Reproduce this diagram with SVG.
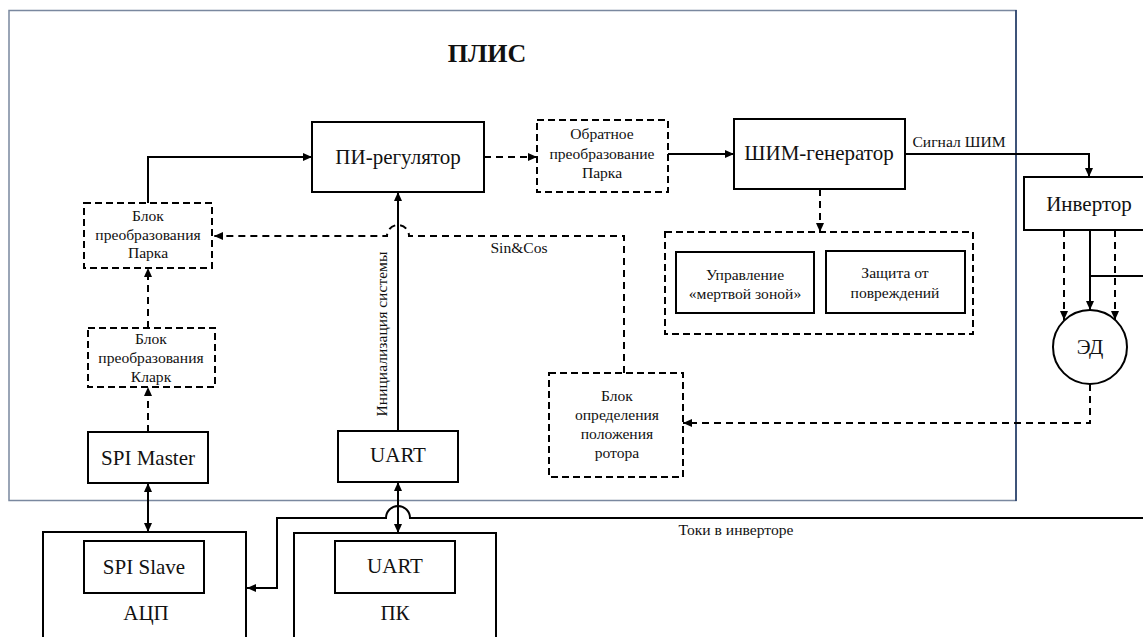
<svg xmlns="http://www.w3.org/2000/svg" width="1143" height="637" viewBox="0 0 1143 637" font-family="'Liberation Serif', 'Times New Roman', serif">
<style>
text{font-family:'Liberation Serif','Times New Roman',serif;fill:#111;}
.big{font-size:21px;text-anchor:middle;}
.sm{font-size:15.6px;text-anchor:middle;}
.box{fill:#fff;stroke:#000;stroke-width:2;}
.dbox{fill:#fff;stroke:#000;stroke-width:2;stroke-dasharray:7 4;}
.ln{fill:none;stroke:#000;stroke-width:2;}
.dl{fill:none;stroke:#000;stroke-width:2;stroke-dasharray:7 5;}
</style>
<defs>
<marker id="ah" markerUnits="userSpaceOnUse" markerWidth="9" markerHeight="8" refX="9" refY="4" orient="auto-start-reverse">
<path d="M0,0 L9,4 L0,8 z" fill="#000"/>
</marker>
</defs>
<rect width="1143" height="637" fill="#fff"/>
<g id="fpga">
<rect x="9" y="10.5" width="1007" height="490" fill="none" stroke="#7a889f" stroke-width="1.5"/>
<line x1="1016" y1="10" x2="1016" y2="501" stroke="#1f3864" stroke-width="1.5"/>
<text x="487" y="62" font-size="26" font-weight="bold" text-anchor="middle">ПЛИС</text>
</g>

<g id="connectors">
<path class="ln" d="M148 203 V157 H312" marker-end="url(#ah)"/>
<path class="dl" d="M148 328 V268" marker-end="url(#ah)"/>
<path class="dl" d="M148 432 V387" marker-end="url(#ah)"/>
<path class="ln" d="M148 483 V532" marker-start="url(#ah)" marker-end="url(#ah)"/>
<path class="ln" d="M398 431 V192" marker-end="url(#ah)"/>
<path class="ln" d="M398 482 V533" marker-start="url(#ah)" marker-end="url(#ah)"/>
<path class="dl" d="M484 157 H537" marker-end="url(#ah)"/>
<path class="ln" d="M668 154 H734" marker-end="url(#ah)"/>
<path class="ln" d="M905 154 H1089 V177" marker-end="url(#ah)"/>
<path class="dl" d="M820 189 V232" marker-end="url(#ah)"/>
<path class="ln" d="M1090 230 V310" marker-end="url(#ah)"/>
<path class="dl" d="M1064 230 V320" marker-end="url(#ah)"/>
<path class="dl" d="M1115 230 V320" marker-end="url(#ah)"/>
<path class="ln" d="M1090 276 H1143"/>
<path class="dl" d="M1090 384 V423 H683" marker-end="url(#ah)"/>
<path class="dl" d="M624 373 V236 H409 A11 11 0 0 0 387 236 H214" marker-end="url(#ah)"/>
<path class="ln" d="M1143 518 H410 A12 12 0 0 0 386 518 H277 V588 H247" marker-end="url(#ah)"/>
</g>

<g id="park">
<rect class="dbox" x="84" y="203" width="128" height="65"/>
<text class="sm" x="148" y="221">Блок</text>
<text class="sm" x="148" y="240">преобразования</text>
<text class="sm" x="148" y="258">Парка</text>
</g>
<g id="clark">
<rect class="dbox" x="88" y="328" width="127" height="59"/>
<text class="sm" x="151" y="344">Блок</text>
<text class="sm" x="151" y="363">преобразования</text>
<text class="sm" x="151" y="382">Кларк</text>
</g>
<g id="spi-master">
<rect class="box" x="88" y="432" width="120" height="51"/>
<text class="big" x="148" y="465">SPI Master</text>
</g>
<g id="uart-fpga">
<rect class="box" x="338" y="431" width="120" height="51"/>
<text class="big" x="398" y="462">UART</text>
</g>
<g id="pi">
<rect class="box" x="312" y="122" width="172" height="70"/>
<text class="big" x="398" y="164">ПИ-регулятор</text>
</g>
<g id="inv-park">
<rect class="dbox" x="537" y="120" width="131" height="72"/>
<text class="sm" x="602" y="139">Обратное</text>
<text class="sm" x="602" y="159">преобразование</text>
<text class="sm" x="602" y="178">Парка</text>
</g>
<g id="pwm">
<rect class="box" x="734" y="119" width="171" height="70"/>
<text class="big" x="819" y="160">ШИМ-генератор</text>
</g>
<g id="pwm-sub">
<rect class="dbox" x="665" y="232" width="308" height="102"/>
<g id="deadzone">
<rect class="box" x="676" y="252" width="138" height="61"/>
<text class="sm" x="745" y="280">Управление</text>
<text class="sm" x="745" y="299">«мертвой зоной»</text>
</g>
<g id="protect">
<rect class="box" x="826" y="251" width="139" height="62"/>
<text class="sm" x="895" y="278">Защита от</text>
<text class="sm" x="895" y="298">повреждений</text>
</g>
</g>
<g id="rotor">
<rect class="dbox" x="549" y="373" width="134" height="104"/>
<text class="sm" x="617" y="401">Блок</text>
<text class="sm" x="617" y="420">определения</text>
<text class="sm" x="617" y="439">положения</text>
<text class="sm" x="617" y="458">ротора</text>
</g>
<g id="inverter">
<rect class="box" x="1024" y="177" width="131" height="53"/>
<text class="big" x="1089" y="211">Инвертор</text>
</g>
<g id="motor">
<circle cx="1090" cy="347" r="37" fill="#fff" stroke="#000" stroke-width="2"/>
<text class="big" x="1090" y="354" font-size="19">ЭД</text>
</g>
<g id="adc">
<rect class="box" x="43" y="532" width="203" height="120"/>
<rect class="box" x="84" y="541" width="120" height="52"/>
<text class="big" x="144" y="574">SPI Slave</text>
<text class="big" x="146" y="620">АЦП</text>
</g>
<g id="pc">
<rect class="box" x="294" y="533" width="202" height="120"/>
<rect class="box" x="335" y="541" width="120" height="52"/>
<text class="big" x="395" y="573">UART</text>
<text class="big" x="395" y="620">ПК</text>
</g>

<g id="labels">
<text class="sm" x="519" y="253">Sin&amp;Cos</text>
<text class="sm" x="959" y="147">Сигнал ШИМ</text>
<text class="sm" x="736" y="535">Токи в инверторе</text>
<text class="sm" transform="translate(387 334) rotate(-90)">Инициализация системы</text>
</g>
</svg>
